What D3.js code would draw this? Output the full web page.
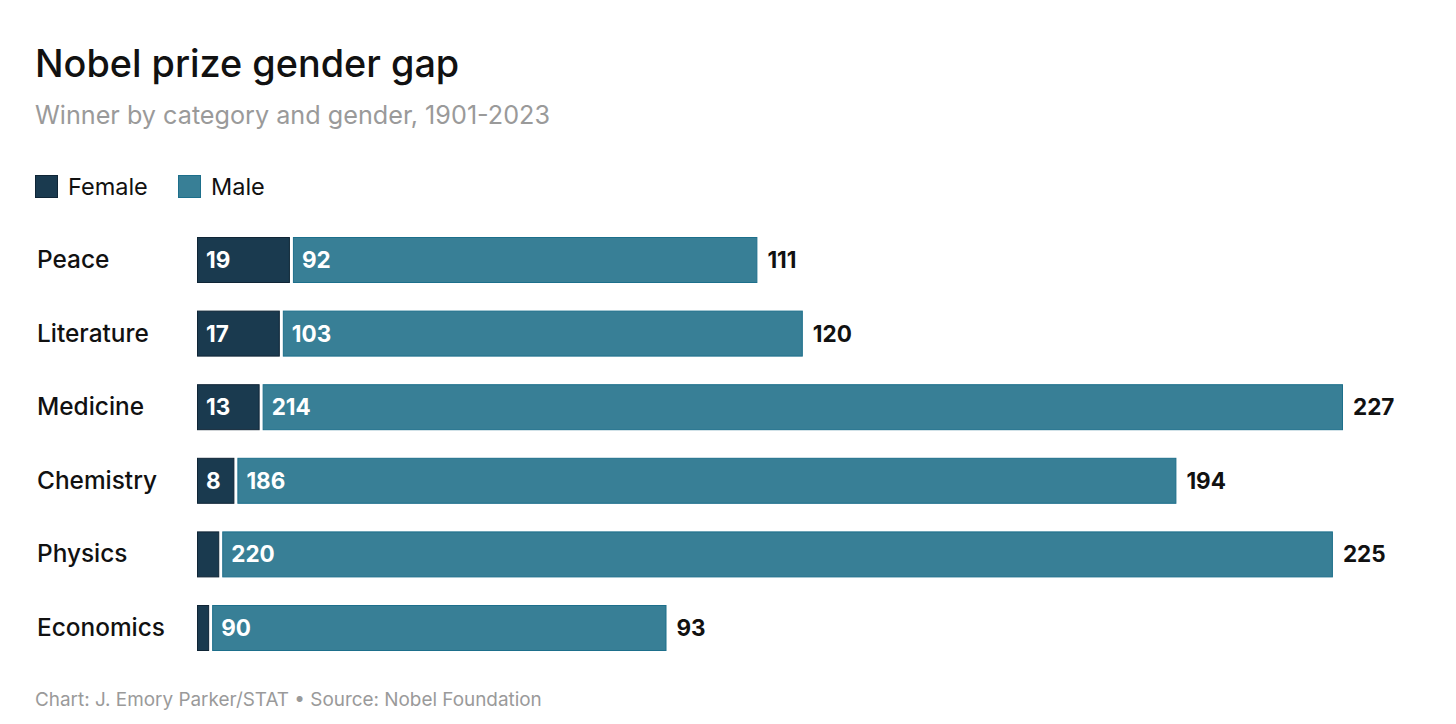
<!DOCTYPE html>
<html>
<head>
<meta charset="utf-8">
<script src="https://cdn.jsdelivr.net/npm/d3@7"></script>
<style>
  body { margin: 0; background: #fff; }
  text { font-family: Inter, "Noto Sans", sans-serif; }
</style>
</head>
<body>
<div id="chart"></div>
<script>
// data
var categories = ["Peace", "Literature", "Medicine", "Chemistry", "Physics", "Economics"];
var female = [19, 17, 13, 8, 5, 3];
var male = [92, 103, 214, 186, 220, 90];
var totals = [111, 120, 227, 194, 225, 93];
var seriesNames = ["Female", "Male"];

var svgWidth = 1456;
var svgHeight = 724;

var colors = { Female: "#1a3a4f", Male: "#387f96" };
var strokes = { Female: "#0f2536", Male: "#1d6f8b" };

var svg = d3.select("#chart")
    .append("svg")
    .attr("width", svgWidth)
    .attr("height", svgHeight);

// title + subtitle
svg.append("text")
    .attr("x", 35).attr("y", 77)
    .attr("font-size", "37.8px")
    .attr("font-weight", "500")
    .attr("fill", "#111")
    .text("Nobel prize gender gap");

svg.append("text")
    .attr("x", 35).attr("y", 124)
    .attr("font-size", "25.2px")
    .attr("fill", "#9a9a9a")
    .text("Winner by category and gender, 1901-2023");

// legend
var legendX = [35, 178];
seriesNames.forEach(function(name, i) {
  svg.append("rect")
      .attr("x", legendX[i] + 0.5).attr("y", 175.5)
      .attr("width", 22).attr("height", 22)
      .attr("fill", colors[name])
      .attr("stroke", strokes[name]);
  svg.append("text")
      .attr("x", legendX[i] + 33).attr("y", 195)
      .attr("font-size", "23.5px")
      .attr("fill", "#111")
      .text(name);
});

// scales
var x = d3.scaleLinear()
    .domain([0, 227])
    .range([197, 1343]);

var y = d3.scaleBand()
    .domain(categories)
    .range([237, 651])
    .paddingInner(0.375)
    .paddingOuter(0);

var rows = categories.map(function(c, i) {
  return { cat: c, f: female[i], m: male[i], t: totals[i] };
});

var g = svg.append("g");

// category labels
g.selectAll(".cat")
    .data(rows)
    .enter()
    .append("text")
    .attr("class", "cat")
    .attr("x", 37)
    .attr("y", d => y(d.cat) + y.bandwidth() / 2 + 8)
    .attr("font-size", "24.4px")
    .attr("font-weight", "500")
    .attr("fill", "#111")
    .text(d => d.cat);

// female bars
g.selectAll(".fbar")
    .data(rows)
    .enter()
    .append("rect")
    .attr("class", "fbar")
    .attr("x", x(0) + 0.5)
    .attr("y", d => y(d.cat) + 0.5)
    .attr("width", d => Math.max(x(d.f) - x(0) - 4, 2))
    .attr("height", y.bandwidth() - 1)
    .attr("fill", colors.Female)
    .attr("stroke", strokes.Female)
    .attr("stroke-width", 1);

// male bars
g.selectAll(".mbar")
    .data(rows)
    .enter()
    .append("rect")
    .attr("class", "mbar")
    .attr("x", d => x(d.f) + 0.5)
    .attr("y", d => y(d.cat) + 0.5)
    .attr("width", d => x(d.t) - x(d.f) - 1)
    .attr("height", y.bandwidth() - 1)
    .attr("fill", colors.Male)
    .attr("stroke", strokes.Male)
    .attr("stroke-width", 1);

// female labels (only where there's room)
g.selectAll(".flab")
    .data(rows.filter(d => d.f >= 8))
    .enter()
    .append("text")
    .attr("class", "flab")
    .attr("x", x(0) + 9)
    .attr("y", d => y(d.cat) + y.bandwidth() / 2 + 8)
    .attr("font-size", "22.5px")
    .attr("font-weight", "700")
    .attr("fill", "#fff")
    .text(d => d.f);

// male labels
g.selectAll(".mlab")
    .data(rows)
    .enter()
    .append("text")
    .attr("class", "mlab")
    .attr("x", d => x(d.f) + 9)
    .attr("y", d => y(d.cat) + y.bandwidth() / 2 + 8)
    .attr("font-size", "22.5px")
    .attr("font-weight", "700")
    .attr("fill", "#fff")
    .text(d => d.m);

// totals
g.selectAll(".tlab")
    .data(rows)
    .enter()
    .append("text")
    .attr("class", "tlab")
    .attr("x", d => x(d.t) + 10)
    .attr("y", d => y(d.cat) + y.bandwidth() / 2 + 8)
    .attr("font-size", "22.5px")
    .attr("font-weight", "700")
    .attr("fill", "#111")
    .text(d => d.t);

// footer
svg.append("text")
    .attr("x", 35).attr("y", 706)
    .attr("font-size", "18.9px")
    .attr("fill", "#9a9a9a")
    .text("Chart: J. Emory Parker/STAT \u2022 Source: Nobel Foundation");
</script>
</body>
</html>
